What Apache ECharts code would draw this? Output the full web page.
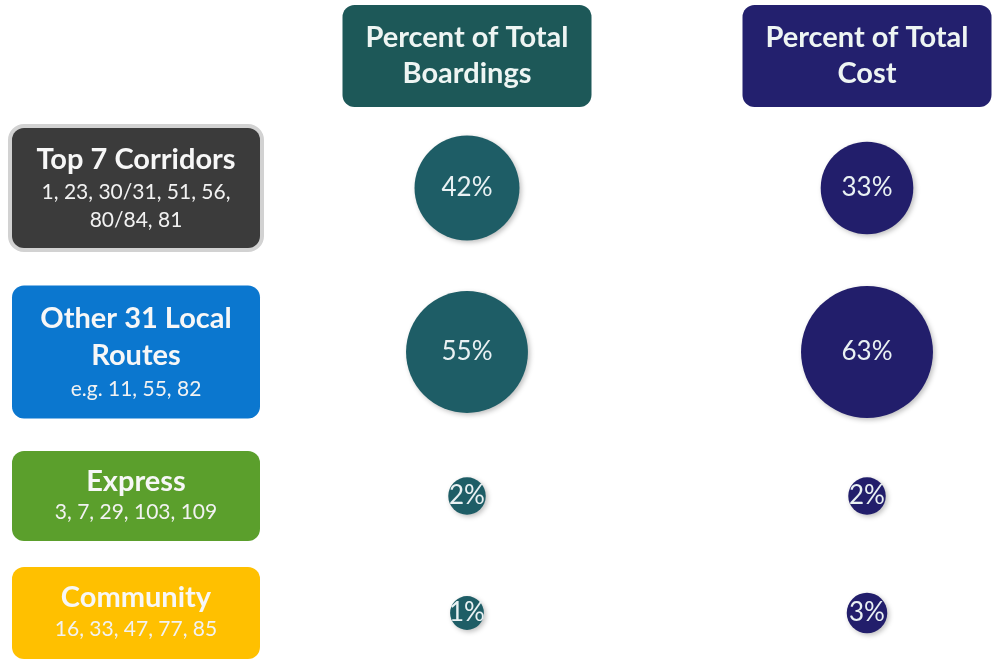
<!DOCTYPE html>
<html>
<head>
<meta charset="utf-8">
<style>
  html, body { margin: 0; padding: 0; background: #fff; }
  #container { width: 999px; height: 659px; }
</style>
<script src="https://cdn.jsdelivr.net/npm/echarts@6/dist/echarts.min.js"></script>
</head>
<body>
<div id="container"></div>
<script>
// data
const columns = ['Percent of Total\nBoardings', 'Percent of Total\nCost'];
const rowTitles = ['Top 7 Corridors', 'Other 31 Local\nRoutes', 'Express', 'Community'];
const rowRoutes = ['1, 23, 30/31, 51, 56,\n80/84, 81', 'e.g. 11, 55, 82', '3, 7, 29, 103, 109', '16, 33, 47, 77, 85'];
const boardings = [42, 55, 2, 1];
const cost = [33, 63, 2, 3];

// styles / layout
const rowColors = ['#3b3b3b', '#0b77cf', '#5b9f2c', '#ffc000'];
const headerColors = ['#1d5858', '#23206e'];
const bubbleColors = ['#1e5d66', '#221e6b'];
const rowCenters = [188, 352, 496, 619];
const titleLH = [36, 37, 32, 33];
const subLH = [28, 30, 29, 30];
const boxH = [120, 133, 90, 92];

let dom = document.getElementById('container');
let myChart = echarts.init(dom);
const font = 'Lato';

const colLeft = 467, colRight = 867;

let grids = rowCenters.map(function (c) {
  return { left: colLeft, right: 999 - colRight, top: c - 40, height: 80 };
});

function headerAxis(k) {
  return {
    type: 'category',
    gridIndex: 0,
    position: 'top',
    boundaryGap: false,
    data: columns,
    axisLine: { show: false },
    axisTick: { show: false },
    splitLine: { show: false },
    axisLabel: {
      interval: function (index) { return index === k; },
      margin: 41,
      color: '#eef5f3',
      fontFamily: font,
      fontSize: 29,
      fontWeight: 'bold',
      lineHeight: 36,
      align: 'center',
      width: 217,
      padding: [15, 16],
      backgroundColor: headerColors[k],
      borderRadius: 12
    }
  };
}

let xAxes = [headerAxis(0), headerAxis(1)];
for (let i = 1; i < rowTitles.length; i++) {
  xAxes.push({ type: 'category', gridIndex: i, boundaryGap: false, data: columns, show: false });
}

let yAxes = rowTitles.map(function (t, i) {
  let content = t.split('\n').length * titleLH[i] + rowRoutes[i].split('\n').length * subLH[i];
  let pad = (boxH[i] - content) / 2;
  return {
    type: 'category',
    gridIndex: i,
    data: [t],
    axisLine: { show: false },
    axisTick: { show: false },
    splitLine: { show: false },
    axisLabel: {
      margin: colLeft - 136,
      align: 'center',
      width: 232,
      padding: [pad, 8],
      backgroundColor: rowColors[i],
      borderRadius: 12,
      borderColor: i === 0 ? '#d2d2d2' : 'transparent',
      borderWidth: i === 0 ? 4 : 0,
      formatter: function (value) {
        let a = value.split('\n').map(function (s) { return '{t|' + s + '}'; });
        let b = rowRoutes[i].split('\n').map(function (s) { return '{s|' + s + '}'; });
        return a.concat(b).join('\n');
      },
      rich: {
        t: { fontFamily: font, fontSize: 29, fontWeight: 'bold', color: '#f7f7f7', lineHeight: titleLH[i], align: 'center' },
        s: { fontFamily: font, fontSize: 21, color: '#f2f2f2', lineHeight: subLH[i], align: 'center' }
      }
    }
  };
});

let series = rowTitles.map(function (t, i) {
  return {
    type: 'scatter',
    xAxisIndex: i === 0 ? 0 : i + 1,
    yAxisIndex: i,
    clip: false,
    symbolSize: function (val) {
      return 26 + 7 * Math.sqrt(val[2]) + 0.8 * val[2];
    },
    label: {
      show: true,
      position: 'inside',
      formatter: function (p) { return p.value[2] + '%'; },
      color: '#e9f1f3',
      fontFamily: font,
      fontSize: 26
    },
    itemStyle: {
      opacity: 1,
      shadowBlur: 5,
      shadowColor: 'rgba(0,0,0,0.25)',
      shadowOffsetX: 2,
      shadowOffsetY: 2
    },
    emphasis: { disabled: true },
    data: [boardings[i], cost[i]].map(function (v, j) {
      return { value: [columns[j], t, v], itemStyle: { color: bubbleColors[j] } };
    })
  };
});

let option = {
  animation: false,
  backgroundColor: '#ffffff',
  grid: grids,
  xAxis: xAxes,
  yAxis: yAxes,
  series: series
};

myChart.setOption(option);
</script>
</body>
</html>
